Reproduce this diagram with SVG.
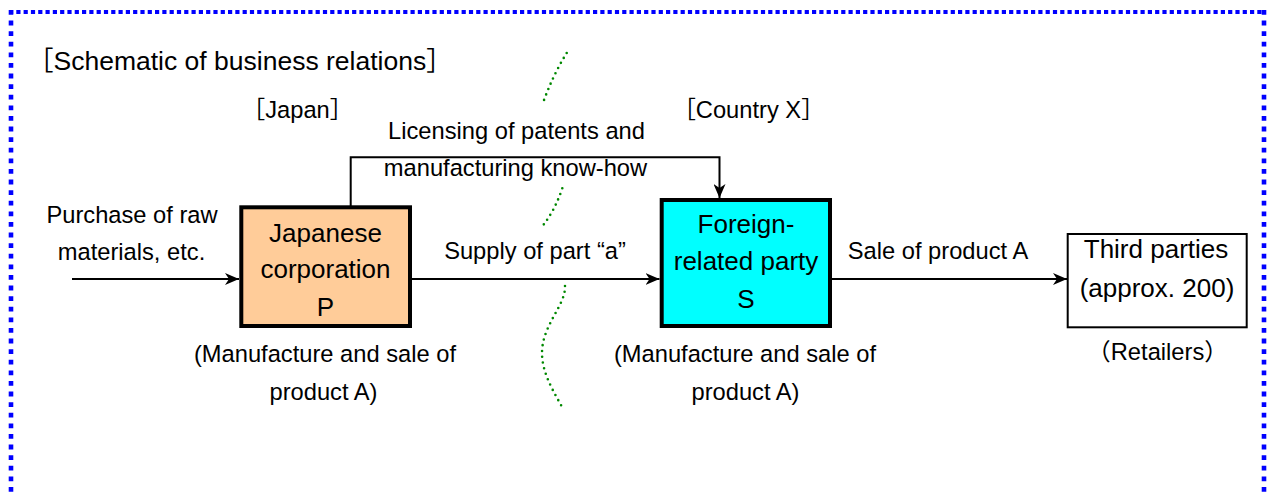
<svg xmlns="http://www.w3.org/2000/svg" width="1267" height="494" viewBox="0 0 1267 494">
<defs>
<style>
text{font-family:"Liberation Sans","Noto Sans CJK JP",sans-serif;fill:#000;}
.lbl{font-size:23.7px;text-anchor:middle;}
.box{font-size:26px;text-anchor:middle;}
.title{font-size:26.5px;}
.ln{fill:none;stroke:#000;stroke-width:2;}
.dots{fill:none;stroke:#008800;stroke-width:2.6;stroke-linecap:round;stroke-dasharray:0 5.8;}
.bh{fill:none;stroke:#0000FF;stroke-width:4.2;stroke-dasharray:4.2 3.1;}
.bv{fill:none;stroke:#0000FF;stroke-width:4.6;stroke-dasharray:4.8 5.8;}
</style>
<marker id="ah" markerUnits="userSpaceOnUse" markerWidth="15" markerHeight="12" refX="14" refY="6" orient="auto">
<path d="M0,0 L14,6 L0,12 L4,6 Z" fill="#000"/>
</marker>
</defs>
<rect width="1267" height="494" fill="#fff"/>
<g id="frame">
<line class="bh" x1="9" y1="12" x2="1266" y2="12"/>
<line class="bv" x1="11" y1="10" x2="11" y2="500"/>
<line class="bv" x1="1264" y1="10" x2="1264" y2="500"/>
</g>
<g id="border-dots">
<path class="dots" d="M566.7,53 Q553,75 543.3,102"/>
<path class="dots" d="M562.3,188.3 Q555,210 543.3,225"/>
<path class="dots" d="M565,286 C566,305 542,325 542,353 C542,375 556,395 563,409"/>
</g>
<g id="labels">
<text class="title" x="27" y="70">［Schematic of business relations］</text>
<text class="lbl" x="297.5" y="118">［Japan］</text>
<text class="lbl" x="748.5" y="118">［Country X］</text>
<text class="lbl" x="516.5" y="139">Licensing of patents and</text>
<text class="lbl" x="515.5" y="176">manufacturing know-how</text>
<text class="lbl" x="132" y="223">Purchase of raw</text>
<text class="lbl" x="131.5" y="260">materials, etc.</text>
<text class="lbl" x="535" y="259">Supply of part “a”</text>
<text class="lbl" x="938" y="259">Sale of product A</text>
<text class="lbl" x="325" y="362">(Manufacture and sale of</text>
<text class="lbl" x="323.5" y="400">product A)</text>
<text class="lbl" x="745" y="362">(Manufacture and sale of</text>
<text class="lbl" x="745.5" y="400">product A)</text>
<text class="lbl" x="1157.5" y="360">（Retailers）</text>
</g>
<g id="connectors">
<path class="ln" d="M350.7,207 V157.3 H719.5 V198" marker-end="url(#ah)"/>
<line class="ln" x1="72" y1="279" x2="239" y2="279" marker-end="url(#ah)"/>
<line class="ln" x1="412" y1="279" x2="659.5" y2="279" marker-end="url(#ah)"/>
<line class="ln" x1="832" y1="279" x2="1067" y2="279" marker-end="url(#ah)"/>
</g>
<g id="node-P">
<rect x="241.3" y="207.3" width="168.7" height="118.7" fill="#FFCC99" stroke="#000" stroke-width="4"/>
<text class="box" x="325.5" y="242">Japanese</text>
<text class="box" x="325.5" y="278">corporation</text>
<text class="box" x="325.5" y="316">P</text>
</g>
<g id="node-S">
<rect x="661.7" y="200" width="168.3" height="126" fill="#00FFFF" stroke="#000" stroke-width="4"/>
<text class="box" x="746" y="233">Foreign-</text>
<text class="box" x="746" y="270">related party</text>
<text class="box" x="746" y="308">S</text>
</g>
<g id="node-T">
<rect x="1067.7" y="234" width="179" height="93.3" fill="#fff" stroke="#000" stroke-width="2"/>
<text class="box" x="1156" y="258">Third parties</text>
<text class="box" x="1157" y="297">(approx. 200)</text>
</g>
</svg>
